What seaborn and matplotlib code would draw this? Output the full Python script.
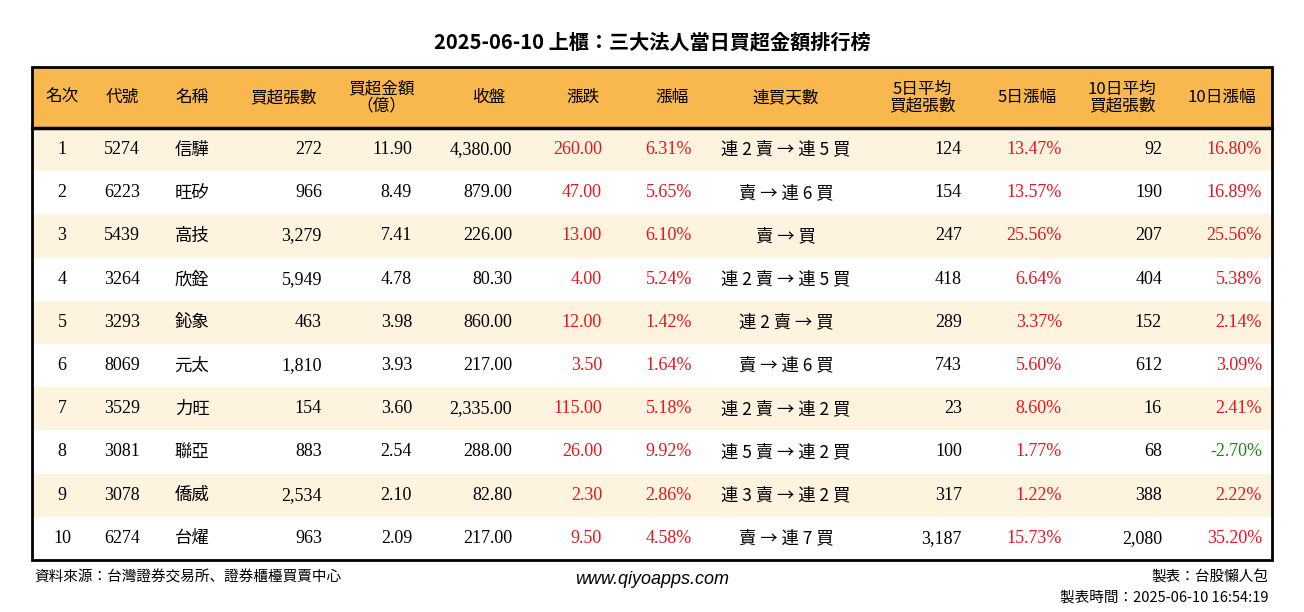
import matplotlib
matplotlib.use("Agg")
import matplotlib.pyplot as plt
import seaborn as sns
import numpy as np
from matplotlib import font_manager

ranks = ["1", "2", "3", "4", "5", "6", "7", "8", "9", "10"]
codes = ["5274", "6223", "5439", "3264", "3293", "8069", "3529", "3081", "3078", "6274"]
names = ["信驊", "旺矽", "高技", "欣銓", "鈊象", "元太", "力旺", "聯亞", "僑威", "台燿"]
net_lots = [272, 966, 3279, 5949, 463, 1810, 154, 883, 2534, 963]
net_amount = [11.90, 8.49, 7.41, 4.78, 3.98, 3.93, 3.60, 2.54, 2.10, 2.09]
close = [4380.00, 879.00, 226.00, 80.30, 860.00, 217.00, 2335.00, 288.00, 82.80, 217.00]
change = [260.00, 47.00, 13.00, 4.00, 12.00, 3.50, 115.00, 26.00, 2.30, 9.50]
pct = [6.31, 5.65, 6.10, 5.24, 1.42, 1.64, 5.18, 9.92, 2.86, 4.58]
streak = ["連 2 賣 → 連 5 買", "賣 → 連 6 買", "賣 → 買", "連 2 賣 → 連 5 買", "連 2 賣 → 買",
          "賣 → 連 6 買", "連 2 賣 → 連 2 買", "連 5 賣 → 連 2 買", "連 3 賣 → 連 2 買", "賣 → 連 7 買"]
avg5 = [124, 154, 247, 418, 289, 743, 23, 100, 317, 3187]
pct5 = [13.47, 13.57, 25.56, 6.64, 3.37, 5.60, 8.60, 1.77, 1.22, 15.73]
avg10 = [92, 190, 207, 404, 152, 612, 16, 68, 388, 2080]
pct10 = [16.80, 16.89, 25.56, 5.38, 2.14, 3.09, 2.41, -2.70, 2.22, 35.20]
headers = ["名次", "代號", "名稱", "買超張數", "買超金額\n（億）", "收盤", "漲跌", "漲幅", "連買天數",
           "5日平均\n買超張數", "5日漲幅", "10日平均\n買超張數", "10日漲幅"]

sns.set_style("white")
plt.rcParams["text.color"] = "black"
SERIF = "Liberation Serif"
# pick whichever CJK name matplotlib actually registered
avail = {f.name for f in font_manager.fontManager.ttflist}
CJK = next((c for c in ["Noto Sans CJK TC", "Noto Sans CJK JP", "Noto Sans CJK SC", "Noto Sans CJK KR"]
            if c in avail), "DejaVu Sans")
RED, GREEN = "#E8141E", "#168A16"

fig = plt.figure(figsize=(13.04, 6.12), dpi=100)
ax = fig.add_axes([0, 0, 1, 1])

L, R, T, HB, B = 32, 1272, 67, 128, 560
n = len(ranks)
rh = (B - HB) / n
# row banding via heatmap
band = np.array([[i % 2] for i in range(n)], dtype=float)
sns.heatmap(band, ax=ax, cmap=matplotlib.colors.ListedColormap(["#FDF3DE", "#FFFFFF"]),
            cbar=False, vmin=0, vmax=1, xticklabels=False, yticklabels=False)
ax.set_xlim(0, 1304)
ax.set_ylim(612, 0)
mesh = ax.collections[0]
mesh.set_transform(matplotlib.transforms.Affine2D().scale(R - L, rh).translate(L, HB) + ax.transData)
ax.axis("off")

ax.add_patch(plt.Rectangle((L, T), R - L, HB - T, color="#F8B84E", zorder=2))
ax.add_patch(plt.Rectangle((L, T), R - L, B - T, fill=False, lw=2, ec="black", zorder=5))
ax.plot([L, R], [HB, HB], color="black", lw=2.5, zorder=5)

cols = [(62, "center"), (122, "center"), (192, "center"), (322, "right"), (412, "right"),
        (512, "right"), (602, "right"), (692, "right"), (786, "center"), (962, "right"),
        (1062, "right"), (1162, "right"), (1262, "right")]
hx = [62, 122, 192, 283, 381, 489, 583, 672, 786, 922, 1027, 1122, 1222]

for x, h in zip(hx, headers):
    ax.text(x, (T + HB) / 2, h, ha="center", va="center", fontsize=12, family=CJK,
            linespacing=0.95, zorder=6)

for i in range(n):
    y = HB + rh * (i + 0.5)
    c10 = RED if pct10[i] >= 0 else GREEN
    vals = [(ranks[i], "black"), (codes[i], "black"), (names[i], "black"),
            (f"{net_lots[i]:,}", "black"), (f"{net_amount[i]:.2f}", "black"),
            (f"{close[i]:,.2f}", "black"), (f"{change[i]:,.2f}", RED), (f"{pct[i]:.2f}%", RED),
            (streak[i], "black"), (f"{avg5[i]:,}", "black"), (f"{pct5[i]:.2f}%", RED),
            (f"{avg10[i]:,}", "black"), (f"{pct10[i]:.2f}%", c10)]
    for j, ((x, ha), (s, c)) in enumerate(zip(cols, vals)):
        cjk = j in (2, 8)
        ax.text(x, y, s, ha=ha, va="center", fontsize=12.5 if cjk else 13,
                family=CJK if cjk else SERIF, color=c, zorder=6)

ax.text(652, 42, "2025-06-10 上櫃：三大法人當日買超金額排行榜", ha="center", va="center",
        fontsize=14.5, fontweight="bold", family=CJK)
ax.text(34, 577, "資料來源：台灣證券交易所、證券櫃檯買賣中心", ha="left", va="center",
        fontsize=10.5, family=CJK)
ax.text(652, 580, "www.qiyoapps.com", ha="center", va="center", fontsize=13,
        style="italic", family="Liberation Sans")
ax.text(1268, 577, "製表：台股懶人包", ha="right", va="center", fontsize=10.5, family=CJK)
ax.text(1268, 598, "製表時間：2025-06-10 16:54:19", ha="right", va="center", fontsize=10.5,
        family=CJK)

fig.savefig("out.png", dpi=100)
